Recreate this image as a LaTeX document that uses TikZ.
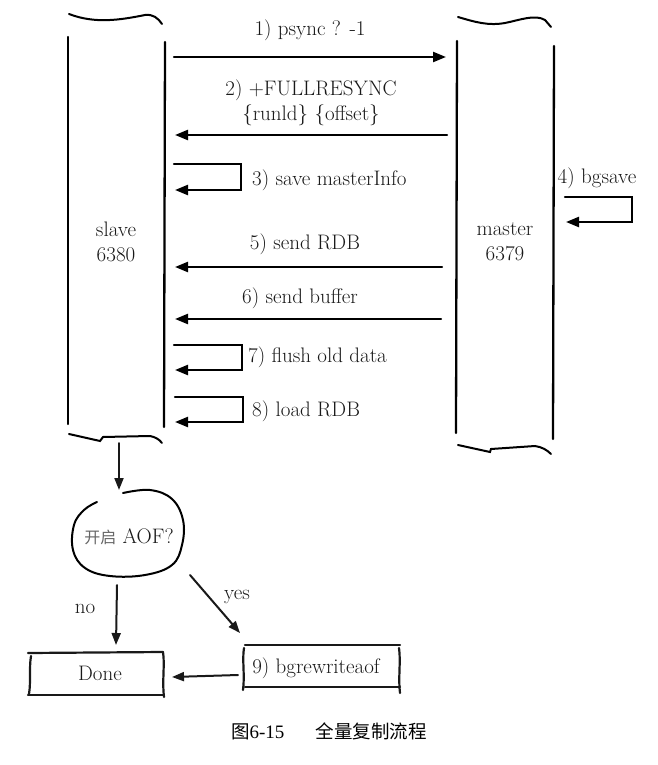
\documentclass[tikz,border=0pt]{standalone}
\usepackage{fontspec}
\newfontfamily\cjk{Noto Sans CJK SC}
\newfontfamily\capserif{Liberation Serif}
\usetikzlibrary{arrows.meta}
\begin{document}
\begin{tikzpicture}[x=1pt,y=-1pt,
  ink/.style={line width=2.3pt, line cap=round, line join=miter, draw=black},
  msg/.style={ink, -{Triangle[length=13pt,width=10pt]}},
  thinmsg/.style={line width=2pt, line cap=round, draw=black!90, -{Triangle[length=12pt,width=9pt]}},
  lbl/.style={font=\fontsize{21}{25}\selectfont, text=black!90, inner sep=0pt},
  boxline/.style={line width=2.2pt, line cap=round, draw=black!90},
  captiontext/.style={font=\cjk\fontsize{18.5}{21}\selectfont, inner sep=0pt}]
\useasboundingbox (0,0) rectangle (657,765);

% ---- slave lifeline ----
\draw[ink, line width=2pt] (69,14) .. controls (95,24) and (120,20) .. (145,15) .. controls (153,14) and (158,18) .. (162,24);
\draw[ink] (68,37) -- (68,424);
\draw[ink] (165,42) -- (164,427);
\draw[ink, line width=2pt] (69,434) -- (100,441) -- (103,437) -- (150,436) .. controls (155,437) and (159,439) .. (162,443);
\node[lbl, align=center] (slave) at (116,242) {slave\\6380};

% ---- master lifeline ----
\draw[ink, line width=2pt] (458,17) .. controls (475,22) and (488,26) .. (505,23) .. controls (520,20) and (535,14) .. (545,20) -- (551,27);
\draw[ink] (457,41) -- (456,433);
\draw[ink] (554,46) -- (553,439);
\draw[ink, line width=2pt] (458,445) -- (490,452) -- (491,449) -- (535,446) .. controls (542,447) and (547,450) .. (551,454);
\node[lbl, align=center] (master) at (505,242) {master\\6379};

% ---- message anchors on the lifelines ----
\coordinate (s1) at (174,57);   \coordinate (m1) at (446,57);
\coordinate (m2) at (447,135);  \coordinate (s2) at (175,135);
\coordinate (m5) at (442,267);  \coordinate (s5) at (175,267);
\coordinate (m6) at (441,319);  \coordinate (s6) at (175,319);

\draw[msg] (s1) -- (m1);
\draw[msg] (m2) -- (s2);
\draw[msg] (m5) -- (s5);
\draw[msg] (m6) -- (s6);

% self loops
\coordinate (a3) at (174,164); \coordinate (b3) at (175,190);
\coordinate (a4) at (565,197); \coordinate (b4) at (566,222);
\coordinate (a7) at (174,345); \coordinate (b7) at (175,370);
\coordinate (a8) at (175,397); \coordinate (b8) at (175,422);
\draw[msg] (a3) -- (241,164) -- (241,190) -- (b3);
\draw[msg] (a4) -- (632,197) -- (632,222) -- (b4);
\draw[msg] (a7) -- (242,345) -- (242,370) -- (b7);
\draw[msg] (a8) -- (243,397) -- (243,422) -- (b8);

% message labels
\node[lbl] (t1) at (310,30) {1) psync ? -1};
\node[lbl, align=center] (t2) at (311,103) {2) +FULLRESYNC\\\{runld\} \{offset\}};
\node[lbl, anchor=west] (t3) at (252,180) {3) save masterInfo};
\node[lbl] (t4) at (597,178) {4) bgsave};
\node[lbl] (t5) at (305,244) {5) send RDB};
\node[lbl] (t6) at (300,298) {6) send buffer};
\node[lbl, anchor=west] (t7) at (248,357) {7) flush old data};
\node[lbl, anchor=west] (t8) at (252,411) {8) load RDB};

% ---- AOF decision ----
\coordinate (slavebottom) at (119,443);
\node[lbl] (aof) at (129,537) {{\cjk\fontsize{16}{18}\selectfont\color{black!60}开启} AOF?};
\draw[ink, line width=2pt] plot[smooth, tension=0.65] coordinates {(123,493) (150,490) (172,499) (183,520) (182,545) (172,565) (145,575) (110,576) (85,568) (73,550) (74,525) (84,510) (97,502)};
\coordinate (aoftop) at (119,490);
\draw[thinmsg] (slavebottom) -- (aoftop);

\node[lbl] (done) at (100,673) {Done};
\node[lbl] (rewrite) at (316,668) {9) bgrewriteaof};

% hand drawn frames
\draw[boxline] (28,653) -- (163,652);
\draw[boxline] (28,695) -- (163,695);
\draw[boxline] (31,656) .. controls (29,668) and (31,682) .. (29,694);
\draw[boxline] (163,652) .. controls (165,665) and (162,680) .. (164,697);
\draw[boxline] (245,645) -- (400,645);
\draw[boxline] (245,687) -- (400,687);
\draw[boxline] (244,648) .. controls (242,660) and (245,675) .. (243,690);
\draw[boxline] (399,648) .. controls (401,662) and (398,678) .. (400,693);

\coordinate (aofbottom) at (117,585);
\coordinate (donetop) at (116,645);
\coordinate (aofright) at (190,575);
\coordinate (rewritetop) at (240,633);
\coordinate (rewriteleft) at (238,675);
\coordinate (doneright) at (172,677);
\draw[thinmsg] (aofbottom) -- (donetop);
\draw[thinmsg] (aofright) -- (rewritetop);
\draw[thinmsg] (rewriteleft) -- (doneright);
\node[lbl] (no) at (85,609) {no};
\node[lbl] (yes) at (237,597) {yes};

% ---- caption ----
\node[captiontext] (caption) at (329,731) {图{\capserif\fontsize{19}{21}\selectfont 6-15}\hspace{1.7em}全量复制流程};
\end{tikzpicture}
\end{document}
